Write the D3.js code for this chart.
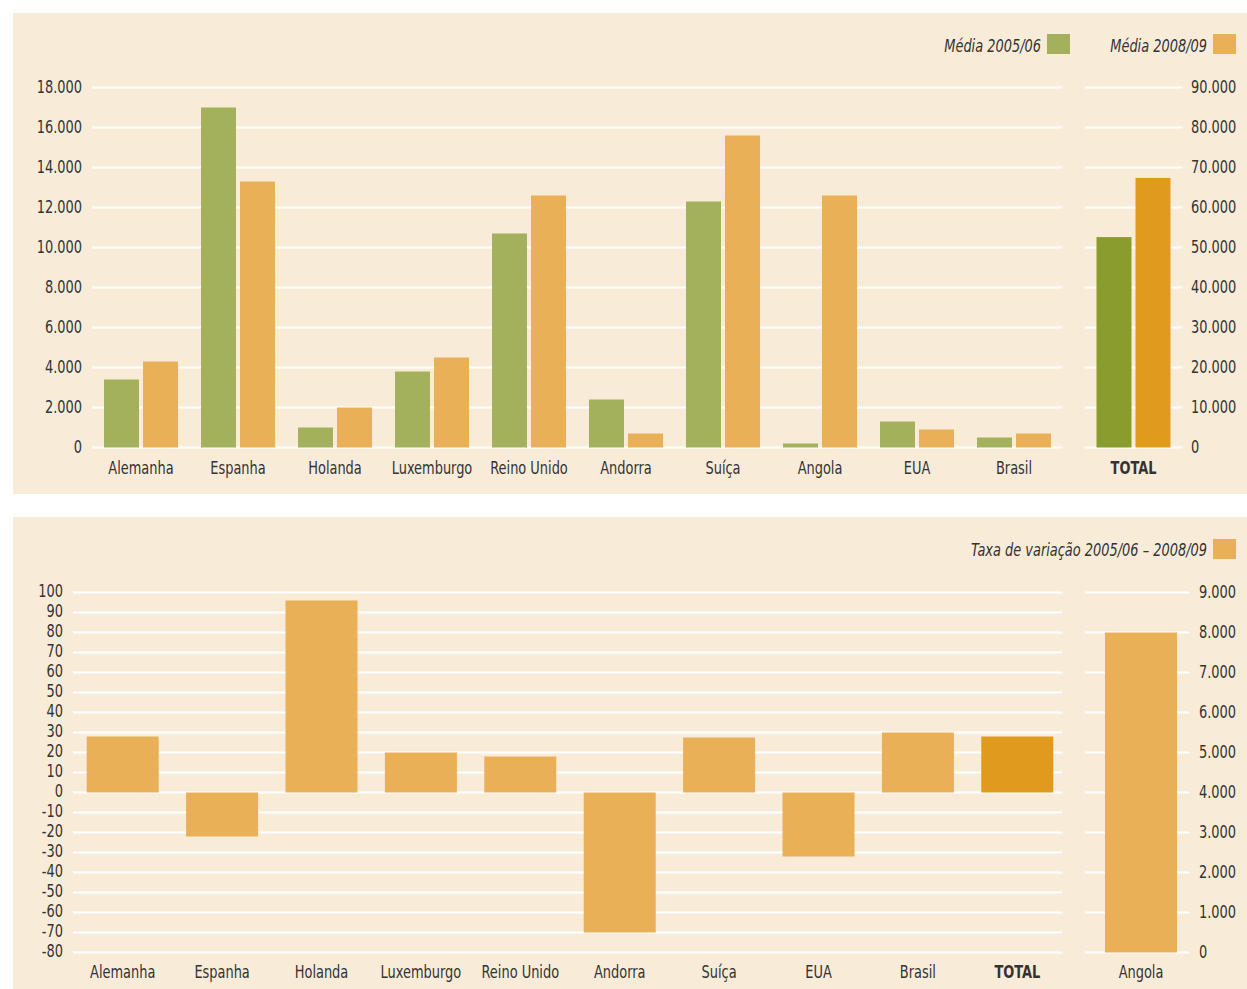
<!DOCTYPE html>
<html>
<head>
<meta charset="utf-8">
<script src="https://cdn.jsdelivr.net/npm/d3@7"></script>
<style>
  body { margin: 0; background: #fff; }
  svg text { font-family: "DejaVu Sans Condensed", "DejaVu Sans", sans-serif; font-stretch: condensed; fill: #333; }
</style>
</head>
<body>
<div id="chart"></div>
<script>
// top chart: average per country
const categories = ["Alemanha", "Espanha", "Holanda", "Luxemburgo", "Reino Unido", "Andorra", "Suíça", "Angola", "EUA", "Brasil"];
const media0506 = [3400, 17000, 1000, 3800, 10700, 2400, 12300, 200, 1300, 500];
const media0809 = [4300, 13300, 2000, 4500, 12600, 700, 15600, 12600, 900, 700];
const totalLabel = ["TOTAL"];
const total0506 = [52600];
const total0809 = [67400];
const leftTicksTop = [0, 2000, 4000, 6000, 8000, 10000, 12000, 14000, 16000, 18000];
const rightTicksTop = [0, 10000, 20000, 30000, 40000, 50000, 60000, 70000, 80000, 90000];

// bottom chart: rate of change
const varCategories = ["Alemanha", "Espanha", "Holanda", "Luxemburgo", "Reino Unido", "Andorra", "Suíça", "EUA", "Brasil", "TOTAL"];
const taxaVariacao = [28, -22, 96, 20, 18, -70, 27.5, -32, 30, 28];
const angolaLabel = ["Angola"];
const angolaVariacao = [8000];
const leftTicksBottom = [-80, -70, -60, -50, -40, -30, -20, -10, 0, 10, 20, 30, 40, 50, 60, 70, 80, 90, 100];
const rightTicksBottom = [0, 1000, 2000, 3000, 4000, 5000, 6000, 7000, 8000, 9000];

const green = "#a3b05c", orange = "#e9b057", greenDark = "#8b9c2f", orangeDark = "#e09b1f";
const bg = "#f8ecd9";

const width = 1247, height = 989;
const svg = d3.select("#chart").append("svg").attr("width", width).attr("height", height);

const pt = d3.formatLocale({decimal: ",", thousands: ".", grouping: [3], currency: ["", ""], minus: "-"});
const fmt = pt.format(",");
const fmtInt = pt.format("d");
const fontSize = "18px";
const squeeze = "scale(0.8,1)"; // condensed look

function grid(g, scale, ticks, x1, x2) {
    g.append("g").selectAll("line").data(ticks).enter().append("line")
        .attr("x1", x1).attr("x2", x2)
        .attr("y1", d => scale(d)).attr("y2", d => scale(d))
        .attr("stroke", "#fff").attr("stroke-width", 2);
}

function cleanAxis(g) {
    g.select(".domain").remove();
    g.selectAll("text").style("font-size", fontSize).attr("fill", "#333").attr("transform", squeeze);
}

function legendText(g, x, y, t) {
    g.append("g").attr("transform", `translate(${x},${y})`)
        .append("text").attr("text-anchor", "end").attr("transform", squeeze)
        .style("font-size", fontSize).style("font-style", "italic").text(t);
}

// ---------- top panel ----------
svg.append("rect").attr("x", 13).attr("y", 13).attr("width", 1234).attr("height", 481).attr("fill", bg);

const yL = d3.scaleLinear().domain([0, 18000]).range([447.5, 87.5]);
const yR = d3.scaleLinear().domain([0, 90000]).range([447.5, 87.5]);
const x = d3.scaleBand().domain(categories).range([92.5, 1062.5]);
const xT = d3.scaleBand().domain(totalLabel).range([1085, 1182]);
const sub = d3.scaleBand().domain([0, 1]).range([0, 74]).paddingInner(4 / 39);

const topG = svg.append("g");
grid(topG, yL, leftTicksTop, 92, 1062);
grid(topG, yR, rightTicksTop, 1085, 1182);

const pairs = categories.map((c, i) => ({c, a: media0506[i], b: media0809[i]}));
const cg = topG.selectAll("g.cat").data(pairs).enter().append("g").attr("class", "cat")
    .attr("transform", d => `translate(${x(d.c) + x.bandwidth() / 2 - 37},0)`);
cg.append("rect").attr("x", sub(0)).attr("width", sub.bandwidth())
    .attr("y", d => yL(d.a)).attr("height", d => yL(0) - yL(d.a)).attr("fill", green);
cg.append("rect").attr("x", sub(1)).attr("width", sub.bandwidth())
    .attr("y", d => yL(d.b)).attr("height", d => yL(0) - yL(d.b)).attr("fill", orange);

const tg = topG.selectAll("g.tot").data(totalLabel.map((c, i) => ({c, a: total0506[i], b: total0809[i]}))).enter().append("g").attr("class", "tot")
    .attr("transform", d => `translate(${xT(d.c) + xT.bandwidth() / 2 - 37},0)`);
tg.append("rect").attr("x", sub(0)).attr("width", sub.bandwidth())
    .attr("y", d => yR(d.a)).attr("height", d => yR(0) - yR(d.a)).attr("fill", greenDark);
tg.append("rect").attr("x", sub(1)).attr("width", sub.bandwidth())
    .attr("y", d => yR(d.b)).attr("height", d => yR(0) - yR(d.b)).attr("fill", orangeDark);

topG.append("g").attr("transform", "translate(82,0)")
    .call(d3.axisLeft(yL).tickValues(leftTicksTop).tickFormat(fmt).tickSize(0).tickPadding(0))
    .call(cleanAxis).selectAll("text").attr("dy", "0.25em");
topG.append("g").attr("transform", "translate(1191,0)")
    .call(d3.axisRight(yR).tickValues(rightTicksTop).tickFormat(fmt).tickSize(0).tickPadding(0))
    .call(cleanAxis).selectAll("text").attr("dy", "0.25em");

topG.append("g").attr("transform", "translate(0,474)")
    .call(d3.axisBottom(x).tickSize(0))
    .call(cleanAxis).selectAll("text").attr("y", 0).attr("dy", 0);
topG.append("g").attr("transform", "translate(0,474)")
    .call(d3.axisBottom(xT).tickSize(0))
    .call(cleanAxis).selectAll("text").attr("y", 0).attr("dy", 0).style("font-weight", "bold");

// legend
const leg = [{t: "Média 2005/06", c: green, x: 1047}, {t: "Média 2008/09", c: orange, x: 1213}];
leg.forEach(l => {
    topG.append("rect").attr("x", l.x).attr("y", 34).attr("width", 23).attr("height", 20).attr("fill", l.c);
    legendText(topG, l.x - 6, 52, l.t);
});

// ---------- bottom panel ----------
svg.append("rect").attr("x", 13).attr("y", 517).attr("width", 1234).attr("height", 472).attr("fill", bg);

const yB = d3.scaleLinear().domain([-80, 100]).range([952.5, 592.5]);
const yA = d3.scaleLinear().domain([0, 9000]).range([952.5, 592.5]);
const xB = d3.scaleBand().domain(varCategories).range([73, 1067]);
const xA = d3.scaleBand().domain(angolaLabel).range([1091, 1191]);
const barW = 72;

const bot = svg.append("g");
grid(bot, yB, leftTicksBottom, 73, 1062);
grid(bot, yA, rightTicksBottom, 1085, 1189);

bot.selectAll("rect.var").data(varCategories.map((c, i) => ({c, v: taxaVariacao[i]}))).enter().append("rect").attr("class", "var")
    .attr("x", d => xB(d.c) + xB.bandwidth() / 2 - barW / 2).attr("width", barW)
    .attr("y", d => yB(Math.max(0, d.v))).attr("height", d => Math.abs(yB(d.v) - yB(0)))
    .attr("fill", d => d.c === "TOTAL" ? orangeDark : orange);

bot.selectAll("rect.ang").data(angolaLabel.map((c, i) => ({c, v: angolaVariacao[i]}))).enter().append("rect").attr("class", "ang")
    .attr("x", d => xA(d.c) + xA.bandwidth() / 2 - barW / 2).attr("width", barW)
    .attr("y", d => yA(d.v)).attr("height", d => yA(0) - yA(d.v)).attr("fill", orange);

bot.append("g").attr("transform", "translate(63,0)")
    .call(d3.axisLeft(yB).tickValues(leftTicksBottom).tickFormat(fmtInt).tickSize(0).tickPadding(0))
    .call(cleanAxis).selectAll("text").attr("dy", "0.2em");
bot.append("g").attr("transform", "translate(1199,0)")
    .call(d3.axisRight(yA).tickValues(rightTicksBottom).tickFormat(fmt).tickSize(0).tickPadding(0))
    .call(cleanAxis).selectAll("text").attr("dy", "0.25em");

bot.append("g").attr("transform", "translate(0,978)")
    .call(d3.axisBottom(xB).tickSize(0))
    .call(cleanAxis).selectAll("text").attr("y", 0).attr("dy", 0)
    .style("font-weight", d => d === "TOTAL" ? "bold" : null);
bot.append("g").attr("transform", "translate(0,978)")
    .call(d3.axisBottom(xA).tickSize(0))
    .call(cleanAxis).selectAll("text").attr("y", 0).attr("dy", 0);

bot.append("rect").attr("x", 1213).attr("y", 539).attr("width", 23).attr("height", 20).attr("fill", orange);
legendText(bot, 1207, 556, "Taxa de variação 2005/06 – 2008/09");
</script>
</body>
</html>
